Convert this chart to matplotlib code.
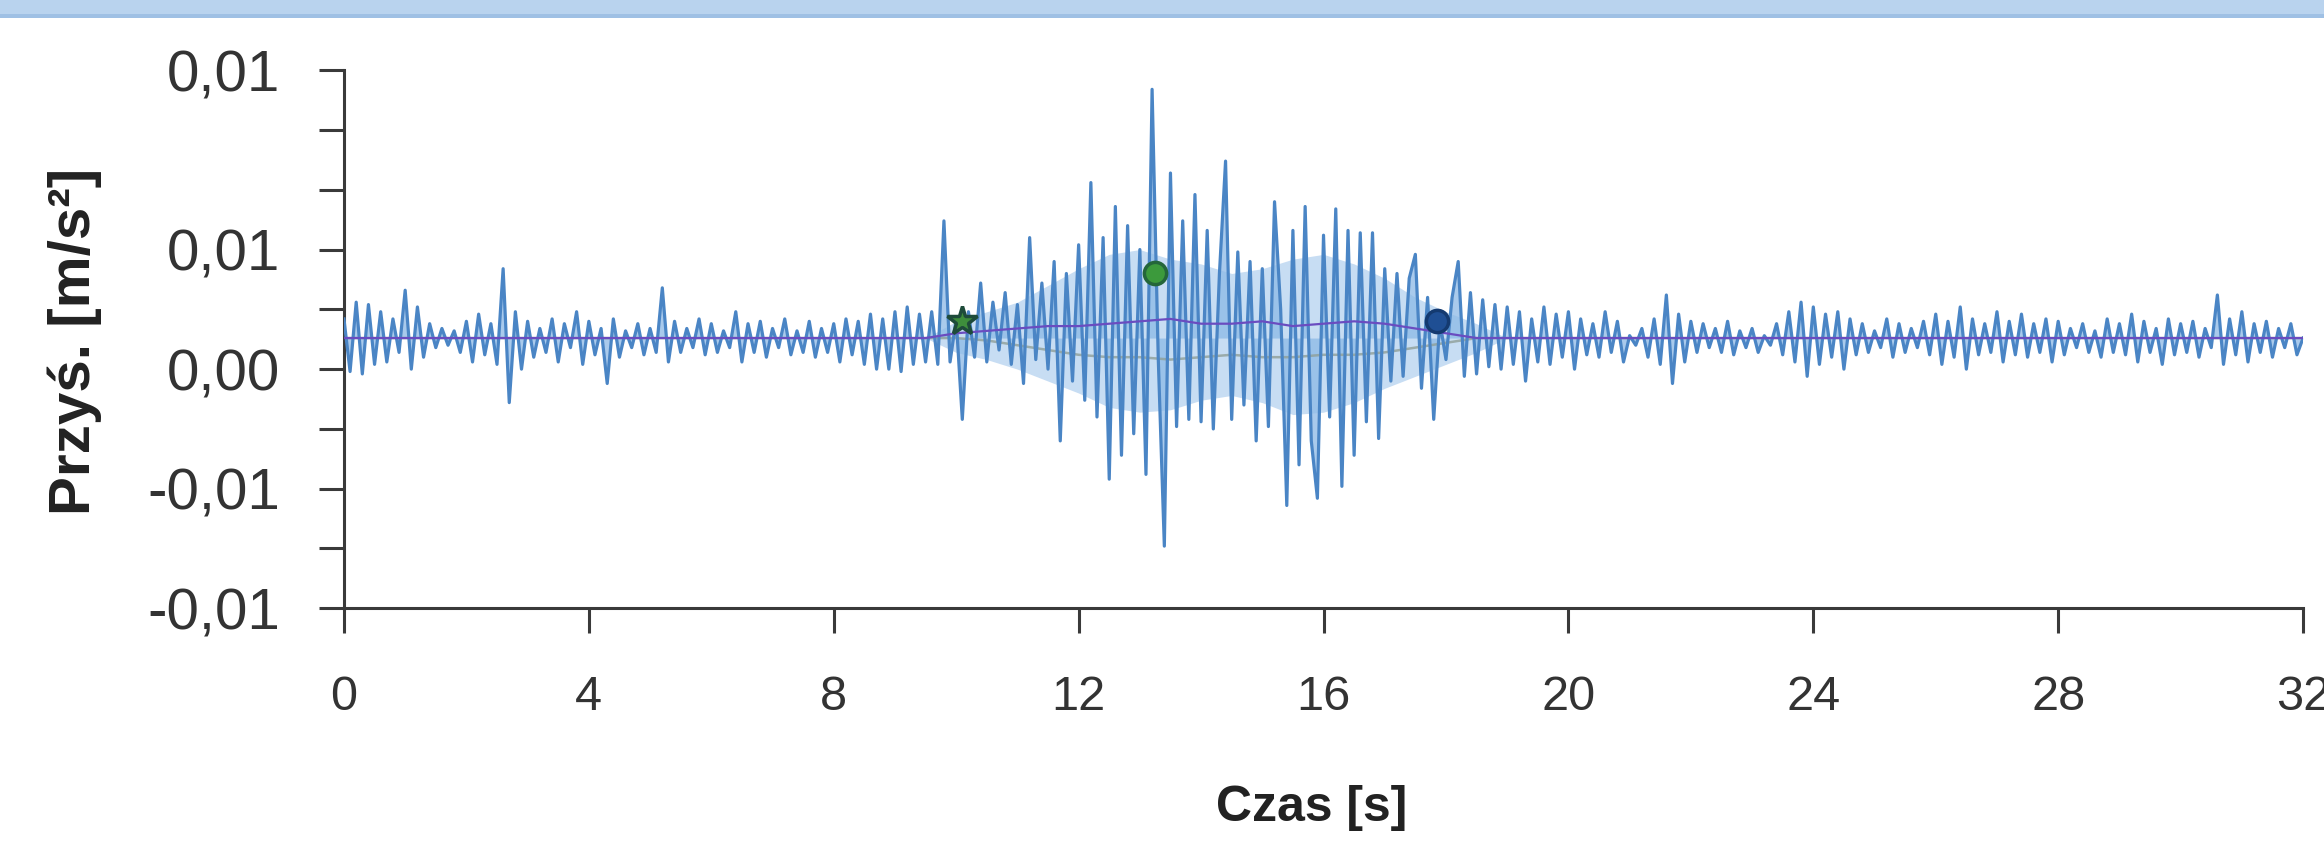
import numpy as np
import matplotlib
matplotlib.use('Agg')
import matplotlib.pyplot as plt
from matplotlib.ticker import FuncFormatter
from matplotlib.patches import Rectangle

plt.rcParams['font.family'] = ['Liberation Sans', 'DejaVu Sans']

# acceleration samples, every DT seconds, in units of 1e-4 m/s^2
DT = 0.1
SCALE = 1e-4

acc_before = [  # 0.0 - 9.5 s
    21, -1, 28, -2, 27, 2, 24, 3, 21, 7,
    33, 0, 26, 5, 19, 9, 17, 10, 16, 7,
    20, 3, 23, 6, 19, 2, 42, -14, 24, 0,
    20, 5, 17, 7, 21, 3, 19, 9, 24, 2,
    20, 6, 17, -6, 21, 5, 16, 9, 19, 6,
    17, 7, 34, 3, 20, 7, 17, 9, 21, 6,
    19, 7, 16, 9, 24, 3, 19, 7, 20, 5,
    17, 9, 21, 6, 16, 7, 20, 5, 17, 7,
    19, 3, 21, 6, 20, 2, 23, 0, 21, 0,
    24, -1, 26, 2, 23, 3,
]
acc_event = [  # 9.6 - 18.9 s
    24, 2, 62, 3,
    21, -21, 24, 5, 36, 3, 28, 8, 32, 2,
    27, -6, 55, 4, 36, 0, 45, -30, 40, -5,
    52, -13, 78, -20, 55, -46, 68, -36, 60, -27,
    50, -44, 117, 5, -74, 82, -24, 62, -21, 73,
    -22, 58, -25, 40, 87, -21, 49, -15, 45, -30,
    42, -24, 70, 25, -57, 58, -40, 68, -30, -54,
    56, -20, 67, -49, 58, -36, 57, -22, 57, -29,
    42, -5, 40, -3, 38, 48, -8, 30, -21, 20,
    4, 30, 45, -3, 32, -2, 29, 1, 27, 0,
]
acc_after = [  # 19.0 - 32.0 s
    26, 2, 24, -5, 21, 3, 26, 2, 23, 5,
    24, 0, 21, 6, 19, 5, 24, 7, 20, 3,
    14, 10, 17, 5, 21, 2, 31, -6, 23, 3,
    20, 7, 19, 9, 17, 7, 20, 6, 16, 9,
    17, 7, 14, 10, 19, 6, 24, 3, 28, -3,
    26, 2, 23, 5, 24, 0, 21, 6, 19, 7,
    16, 9, 21, 5, 19, 7, 17, 9, 20, 6,
    23, 2, 20, 5, 26, 0, 21, 6, 19, 7,
    24, 3, 20, 6, 23, 5, 19, 7, 21, 3,
    20, 6, 17, 9, 19, 7, 16, 5, 21, 7,
    19, 6, 23, 3, 20, 7, 17, 2, 21, 6,
    19, 7, 20, 5, 17, 9, 31, 2, 21, 6,
    24, 3, 19, 7, 20, 5, 17, 9, 19, 6,
    13,
]

# dense inner band of the trace during the event (1e-4 m/s^2), read every 0.5 s
band_t = [9.5, 10.0, 10.5, 11.0, 11.5, 12.0, 12.5, 13.0, 13.5, 14.0,
          14.5, 15.0, 15.5, 16.0, 16.5, 17.0, 17.5, 18.0, 18.5, 19.0]
band_upper = [13, 20, 24, 28, 35, 42, 48, 50, 46, 44,
              40, 42, 46, 48, 44, 38, 30, 24, 19, 13]
band_lower = [13, 7, 4, 0, -5, -10, -16, -18, -17, -13,
              -11, -14, -19, -18, -14, -8, -3, 2, 7, 13]

# smoothed upper / lower curves (1e-4 m/s^2)
env_t = [0, 9.5, 10.0, 10.5, 11.0, 11.5, 12.0, 12.5, 13.0, 13.5, 14.0,
         14.5, 15.0, 15.5, 16.0, 16.5, 17.0, 17.5, 18.0, 18.5, 32]
env_upper = [13, 13, 15, 16, 17, 18, 18, 19, 20, 21, 19,
             19, 20, 18, 19, 20, 19, 17, 15, 13, 13]
env_lower = [13, 13, 13, 12, 10, 8, 6, 5, 5, 4, 5,
             6, 5, 5, 6, 6, 7, 9, 11, 13, 13]

# picked phases: time [s], value (1e-4 m/s^2)
pick_t = [10.1, 13.25, 17.85]
pick_v = [20, 40, 20]

x_ticks = [0, 4, 8, 12, 16, 20, 24, 28, 32]
y_major = [-0.01, -0.005, 0.0, 0.005, 0.0125]
y_minor = [-0.0075, -0.0025, 0.0025, 0.0075, 0.01]

acc = np.array(acc_before + acc_event + acc_after) * SCALE
t = np.arange(len(acc)) * DT
center = 13 * SCALE

fig = plt.figure(figsize=(23.24, 8.46), dpi=100)
fig.patch.set_facecolor('white')

# blue strip on top of the panel
fig.patches.append(Rectangle((0, 1 - 16 / 846), 1, 16 / 846, transform=fig.transFigure,
                             facecolor='#b9d3ee', edgecolor='none'))
fig.patches.append(Rectangle((0, 1 - 18 / 846), 1, 4 / 846, transform=fig.transFigure,
                             facecolor='#9fc0e4', edgecolor='none'))

ax = fig.add_axes([0.148, 0.281, 0.843, 0.636])

ax.fill_between(np.array(band_t), np.array(band_upper) * SCALE, np.array(band_lower) * SCALE,
                color='#a3c7ec', alpha=0.6, linewidth=0, zorder=1)
ax.fill_between(t, acc, center, color='#8cb9e6', alpha=0.75, linewidth=0, zorder=1)
ax.plot(np.array(env_t), np.array(env_lower) * SCALE, color='#8f9f98', lw=1.8, alpha=0.8, zorder=2)
ax.plot(t, acc, color='#4a85c5', lw=2.3, zorder=3)
ax.plot(np.array(env_t), np.array(env_upper) * SCALE, color='#6a4cc0', lw=1.6, zorder=4)

ax.plot(pick_t[0], pick_v[0] * SCALE, marker='*', ms=22, color='#3e8e3c', mec='#1e4b3a', mew=2.5, zorder=5)
ax.plot(pick_t[1], pick_v[1] * SCALE, marker='o', ms=16, color='#3c9a3c', mec='#24663a', mew=2.5, zorder=5)
ax.plot(pick_t[2], pick_v[2] * SCALE, marker='o', ms=16, color='#1f4f94', mec='#143a70', mew=2.5, zorder=5)

ax.set_xlim(0, 32)
ax.set_ylim(-0.01, 0.0125)
ax.set_xticks(x_ticks)
ax.set_yticks(y_major)
ax.set_yticks(y_minor, minor=True)
ax.yaxis.set_major_formatter(FuncFormatter(lambda v, p: '{:.2f}'.format(v).replace('.', ',')))

for s in ['top', 'right']:
    ax.spines[s].set_visible(False)
for s in ['left', 'bottom']:
    ax.spines[s].set_color('#3a3a3a')
    ax.spines[s].set_linewidth(2.2)

ax.tick_params(axis='both', which='both', length=18, width=2.2, color='#3a3a3a',
               labelcolor='#333333')
ax.tick_params(axis='y', which='both', pad=28, labelsize=42)
ax.tick_params(axis='x', pad=30, labelsize=35)

fig.text(0.032, 0.597, 'Przyś. [m/s²]', rotation=90, ha='center', va='center',
         fontsize=42, fontweight='bold', color='#222222')
fig.text(0.5645, 0.045, 'Czas [s]', ha='center', va='center',
         fontsize=36, fontweight='bold', color='#222222')

fig.savefig('out.png', dpi=100)
